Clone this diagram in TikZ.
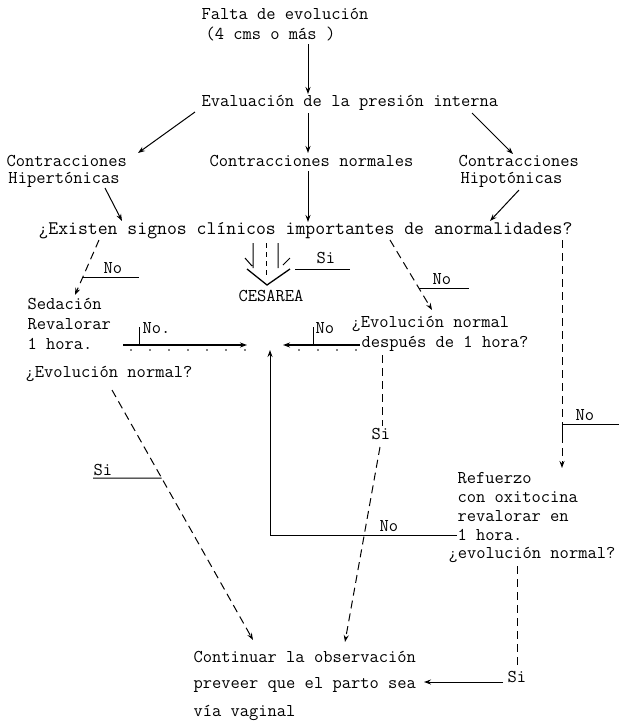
\documentclass[tikz,border=0pt]{standalone}
\usepackage{fontspec}
\usetikzlibrary{arrows.meta, calc}
\tikzset{txt/.style={anchor=west, inner sep=0pt, font=\ttfamily\fontsize{18}{20}\selectfont},
         wide/.style={txt, font=\ttfamily\fontsize{19.2}{20}\selectfont},
         flow/.style={-{Stealth[length=7pt, width=5pt]}},
         dflow/.style={dashed, dash pattern=on 8pt off 5pt, -{Stealth[length=7pt, width=5pt]}},
         heavy/.style={line width=1.5pt}}

\begin{document}
\begin{tikzpicture}[x=1pt, y=-1pt, line width=1pt]
    \useasboundingbox (0,0) rectangle (619,721);
    % Text nodes
    \node[txt] (falta) at (201,14) {Falta de evolución};
    \node[txt] (cms) at (205,34) {(4 cms o más )};
    \node[txt] (eval) at (201,103) {Evaluación de la presión interna};
    \node[txt] (hiper1) at (6,161) {Contracciones};
    \node[txt] (hiper2) at (8,180) {Hipertónicas};
    \node[txt] (normal) at (209,161) {Contracciones normales};
    \node[txt] (hipo1) at (458,161) {Contracciones};
    \node[txt] (hipo2) at (460,180) {Hipotónicas};
    \node[wide] (signos) at (38,231) {¿Existen signos clínicos importantes de anormalidades?};
    \node[txt] (cesarea) at (238,296) {CESAREA};
    \node[txt] (siC) at (316,258) {Si};
    \node[txt] (noL) at (103,268) {No};
    \node[txt] (noR) at (432,279) {No};
    \node[txt] (seda1) at (27,304) {Sedación};
    \node[txt] (seda2) at (27,324) {Revalorar};
    \node[txt] (seda3) at (27,344) {1 hora.};
    \node[txt] (noS) at (142,328) {No.};
    \node[txt] (noD) at (315,328) {No};
    \node[txt] (evo1) at (351,324) {¿Evolución normal};
    \node[txt] (evo2) at (361,344) {después de 1 hora?};
    \node[txt] (evoS) at (25,374) {¿Evolución normal?};
    \node[txt] (siD) at (371,434) {Si};
    \node[txt] (siS) at (93,470) {Si};
    \node[txt] (noO) at (575,415) {No};
    \node[txt] (ref1) at (457,478) {Refuerzo};
    \node[txt] (ref2) at (457,497) {con oxitocina};
    \node[txt] (ref3) at (457,516) {revalorar en};
    \node[txt] (ref4) at (457,535) {1 hora.};
    \node[txt] (ref5) at (448,555) {¿evolución normal?};
    \node[txt] (noB) at (379,526) {No};
    \node[txt] (cont1) at (193,657) {Continuar la observación};
    \node[txt] (cont2) at (193,685) {preveer que el parto sea};
    \node[txt] (cont3) at (193,713) {vía vaginal};
    \node[txt] (siB) at (507,677) {Si};

    % Connector ends
    \coordinate (a1) at (308,44);   \coordinate (a2) at (308,94);
    \coordinate (b0) at (195,112);  \coordinate (b1) at (138,153);
    \coordinate (c0) at (308,113);  \coordinate (c1) at (308,153);
    \coordinate (d0) at (472,113);  \coordinate (d1) at (513,154);
    \coordinate (e0) at (105,188);  \coordinate (e1) at (122,221);
    \coordinate (f0) at (308,171);  \coordinate (f1) at (308,222);
    \coordinate (g0) at (519,190);  \coordinate (g1) at (490,221);
    \coordinate (h0) at (99,240);   \coordinate (h1) at (75,295);
    \coordinate (k0) at (390,240);  \coordinate (k1) at (432,310);
    \coordinate (m0) at (562,240);  \coordinate (m1) at (562,468);
    \coordinate (s0) at (123,345);  \coordinate (s1) at (247,345);
    \coordinate (t0) at (360,345);  \coordinate (t1) at (283,345);
    \coordinate (u1) at (270,350);
    \coordinate (v0) at (382,355);  \coordinate (v1) at (382,426);
    \coordinate (v2) at (380,447);  \coordinate (v3) at (345,642);
    \coordinate (w0) at (112,390);  \coordinate (w1) at (253,640);
    \coordinate (z0) at (517,566);  \coordinate (z1) at (517,668);
    \coordinate (z2) at (503,682);  \coordinate (z3) at (424,682);

    % Main flow
    \draw[flow] (a1) -- (a2);
    \draw[flow] (b0) -- (b1);
    \draw[flow] (c0) -- (c1);
    \draw[flow] (d0) -- (d1);
    \draw[flow] (e0) -- (e1);
    \draw[flow] (f0) -- (f1);
    \draw[flow] (g0) -- (g1);

    % Answers of the question
    \draw[dflow] (h0) -- (h1);
    \draw ($(h0)!0.69!(h1)$) -- ++(57,0);
    \draw[dflow] (k0) -- (k1);
    \draw ($(k0)!0.69!(k1)$) -- ++(50,0);
    \draw[dflow] (m0) -- (m1);
    \draw (562,437) -- (562,424) -- (619,424);

    % Cesarea
    \draw (253,243) -- (253,268) (245,258) -- (252,266);
    \draw (278,243) -- (278,268) (290,258) -- (283,265);
    \draw[dashed, dash pattern=on 5pt off 4pt] (266,243) -- (266,275);
    \draw[line width=1.3pt] (247,269) -- (267,285) -- (290,269);
    \draw (295,269) -- (350,269);

    % Back to the evaluation
    \draw[heavy, flow] (s0) -- (s1);
    \draw[dotted, line width=1.8pt, dash pattern=on 0pt off 19pt, line cap=round] ([yshift=-5pt]s0) ++(8,0) -- ([yshift=-5pt]s1);
    \draw (139,327) -- (139,345);
    \draw[heavy, flow] (t0) -- (t1);
    \draw[dotted, line width=1.8pt, dash pattern=on 0pt off 19pt, line cap=round] ([yshift=-5pt]t0) ++(-4,0) -- ([yshift=-5pt]t1);
    \draw (313,327) -- (313,345);
    \draw[flow] (ref4.west) -- (ref4.west -| u1) -- (u1);

    % To the vaginal delivery
    \draw[dashed, dash pattern=on 8pt off 5pt] (v0) -- (v1);
    \draw[dflow] (v2) -- (v3);
    \draw[dflow] (w0) -- (w1);
    \draw ($(w0)!0.352!(w1)$) -- (siS.south west |- 0,478);
    \draw[dashed, dash pattern=on 8pt off 5pt] (z0) -- (z1);
    \draw[flow] (z2) -- (z3);
\end{tikzpicture}
\end{document}
